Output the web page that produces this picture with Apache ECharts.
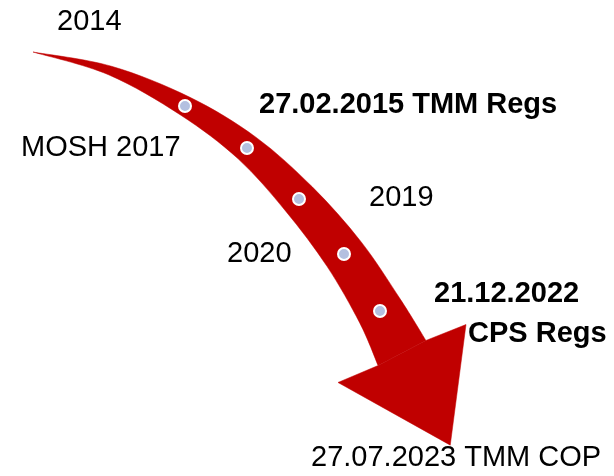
<!DOCTYPE html>
<html>
<head>
<meta charset="utf-8">
<script src="https://cdn.jsdelivr.net/npm/echarts@6/dist/echarts.min.js"></script>
<style>
	html, body { margin: 0; padding: 0; background: #fff; }
	#main { width: 614px; height: 476px; }
</style>
</head>
<body>
<div id="main"></div>
<script>
// arrow centre line (x, y) and half width of the shaft
var pathX = [33, 110, 185, 247, 299, 344, 380, 402];
var pathY = [52, 70.5, 106, 148, 199, 254, 311, 353];
var halfW = [0, 4.5, 10, 14, 18, 21, 23.5, 27];
var headHalf = 70;
var headLen = 104;

// milestone dots
var dotX = [185, 247, 299, 344, 380];
var dotY = [106, 148, 199, 254, 311];

// labels
var labelText = ['2014', 'MOSH 2017', '27.02.2015 TMM Regs', '2019', '2020', '21.12.2022', 'CPS Regs', '27.07.2023 TMM COP'];
var labelX = [57, 21, 259, 369, 227, 434, 468, 311];
var labelY = [22, 147.5, 105, 198, 253.5, 293.5, 334, 458];
var labelBold = [0, 0, 1, 0, 0, 1, 1, 0];

function catmull(pts) { //点列转贝塞尔路径
	var d = '';
	for(var i = 0; i < pts.length - 1; i++) {
		var p0 = pts[i - 1] || pts[i];
		var p1 = pts[i];
		var p2 = pts[i + 1];
		var p3 = pts[i + 2] || pts[i + 1];
		var c1 = [p1[0] + (p2[0] - p0[0]) / 6, p1[1] + (p2[1] - p0[1]) / 6];
		var c2 = [p2[0] - (p3[0] - p1[0]) / 6, p2[1] - (p3[1] - p1[1]) / 6];
		d += ' C' + c1[0] + ',' + c1[1] + ' ' + c2[0] + ',' + c2[1] + ' ' + p2[0] + ',' + p2[1];
	}
	return d;
}

function renderArrow(params, api) {
	var c = [];
	for(var i = 0; i < pathX.length; i++) {
		c.push(api.coord([pathX[i], pathY[i]]));
	}
	var outer = [], inner = [], n = c.length;
	var dir;
	for(var i = 0; i < n; i++) {
		var a = c[Math.max(i - 1, 0)];
		var b = c[Math.min(i + 1, n - 1)];
		var dx = b[0] - a[0], dy = b[1] - a[1];
		var len = Math.sqrt(dx * dx + dy * dy);
		dir = [dx / len, dy / len];
		var nx = dir[1], ny = -dir[0];
		outer.push([c[i][0] + nx * halfW[i], c[i][1] + ny * halfW[i]]);
		inner.push([c[i][0] - nx * halfW[i], c[i][1] - ny * halfW[i]]);
	}
	var innerRev = inner.slice().reverse();
	var d = 'M' + outer[0][0] + ',' + outer[0][1] + catmull(outer);
	d += ' L' + innerRev[0][0] + ',' + innerRev[0][1] + catmull(innerRev) + ' Z';
	var end = c[n - 1];
	var nx = dir[1], ny = -dir[0];
	var tip = [end[0] + dir[0] * headLen, end[1] + dir[1] * headLen];
	var head = [
		outer[n - 1],
		[end[0] + nx * headHalf + 2, end[1] + ny * headHalf + 4],
		tip,
		[end[0] - nx * headHalf - 2, end[1] - ny * headHalf - 3],
		inner[n - 1]
	];
	return {
		type: 'group',
		children: [{
			type: 'path',
			shape: { pathData: d },
			style: { fill: '#c00000', stroke: '#c00000', lineWidth: 0.5 }
		}, {
			type: 'polygon',
			shape: { points: head },
			style: { fill: '#c00000', stroke: '#c00000', lineWidth: 0.5 }
		}]
	};
}

var dots = [];
for(var i = 0; i < dotX.length; i++) {
	dots.push([dotX[i], dotY[i]]);
}
var labels = [];
for(var i = 0; i < labelText.length; i++) {
	labels.push({
		value: [labelX[i], labelY[i]],
		name: labelText[i],
		label: { fontWeight: labelBold[i] ? 'bold' : 'normal' }
	});
}

var chart = echarts.init(document.getElementById('main'));
var option = {
	animation: false,
	grid: { left: 0, right: 0, top: 0, bottom: 0 },
	xAxis: { type: 'value', min: 0, max: 614, show: false },
	yAxis: { type: 'value', min: 0, max: 476, inverse: true, show: false },
	series: [{
		type: 'custom',
		renderItem: renderArrow,
		data: [0],
		z: 1,
		silent: true
	}, {
		type: 'scatter',
		data: dots,
		symbol: 'circle',
		symbolSize: 12,
		itemStyle: { color: '#b4c0e0', borderColor: '#fff', borderWidth: 2, opacity: 1 },
		z: 3
	}, {
		type: 'scatter',
		data: labels,
		symbolSize: 0,
		itemStyle: { opacity: 1 },
		label: {
			show: true,
			position: 'inside',
			align: 'left',
			verticalAlign: 'middle',
			formatter: '{b}',
			color: '#000',
			textBorderWidth: 0,
			fontFamily: 'Liberation Sans, Arial, sans-serif',
			fontSize: 29
		},
		z: 4
	}]
};
chart.setOption(option);
</script>
</body>
</html>
